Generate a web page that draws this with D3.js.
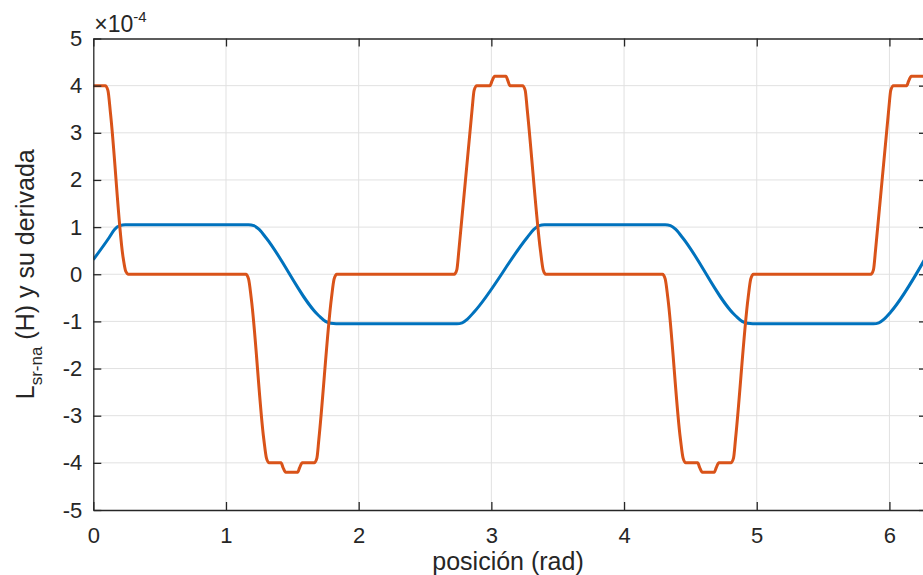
<!DOCTYPE html>
<html>
<head>
<meta charset="utf-8">
<script src="https://cdn.jsdelivr.net/npm/d3@7"></script>
<style>
  body { margin: 0; background: #fff; }
  svg text { font-family: "Liberation Sans", Arial, sans-serif; fill: #262626; }
</style>
</head>
<body>
<div id="chart"></div>
<script>
// Data (values in units of 1e-4)
const xTicks = [0, 1, 2, 3, 4, 5, 6]
const yTicks = [-5, -4, -3, -2, -1, 0, 1, 2, 3, 4, 5]

// L_sr-na
const lX = [0, 0.12, 0.16, 0.20, 0.24,
  1.17, 1.21, 1.25, 1.30, 1.70, 1.75, 1.79, 1.83,
  2.74, 2.78, 2.82, 2.87, 3.27, 3.32, 3.36, 3.40,
  4.31, 4.35, 4.39, 4.44, 4.84, 4.89, 4.93, 4.97,
  5.88, 5.92, 5.96, 6.01, 6.283]
const lY = [0.31, 0.78, 0.95, 1.03, 1.05,
  1.05, 1.03, 0.95, 0.78, -0.88, -1.00, -1.04, -1.05,
  -1.05, -1.03, -0.95, -0.80, 0.78, 0.95, 1.03, 1.05,
  1.05, 1.03, 0.95, 0.78, -0.88, -1.00, -1.04, -1.05,
  -1.05, -1.03, -0.95, -0.80, 0.40]

// derivada
const dX = [0, 0.09, 0.11, 0.13, 0.225, 0.245, 0.265,
  1.15, 1.17, 1.19, 1.285, 1.305, 1.325,
  1.415, 1.43, 1.45, 1.54, 1.555, 1.575,
  1.665, 1.685, 1.70, 1.795, 1.815, 1.835,
  2.72, 2.74, 2.755, 2.855, 2.87, 2.89,
  2.99, 3.005, 3.025, 3.11, 3.125, 3.14,
  3.235, 3.255, 3.27, 3.37, 3.39, 3.41,
  4.29, 4.31, 4.33, 4.425, 4.445, 4.465,
  4.555, 4.57, 4.59, 4.68, 4.695, 4.715,
  4.805, 4.825, 4.84, 4.935, 4.955, 4.975,
  5.86, 5.88, 5.895, 5.995, 6.01, 6.03,
  6.13, 6.145, 6.165, 6.283]
const dY = [4, 4, 3.9, 3.4, 0.35, 0.06, 0,
  0, -0.1, -0.5, -3.5, -3.9, -4,
  -4, -4.1, -4.2, -4.2, -4.1, -4,
  -4, -3.9, -3.5, -0.5, -0.1, 0,
  0, 0.1, 0.5, 3.5, 3.9, 4,
  4, 4.1, 4.2, 4.2, 4.1, 4,
  4, 3.9, 3.5, 0.5, 0.1, 0,
  0, -0.1, -0.5, -3.5, -3.9, -4,
  -4, -4.1, -4.2, -4.2, -4.1, -4,
  -4, -3.9, -3.5, -0.5, -0.1, 0,
  0, 0.1, 0.5, 3.5, 3.9, 4,
  4, 4.1, 4.2, 4.2]

const series = [
  { x: lX, y: lY, color: '#0072BD' },
  { x: dX, y: dY, color: '#D95319' }
]

// Dimensions
const dims = {
  width: 923,
  height: 575,
  left: 93.3,
  right: 927,
  top: 38.5,
  bottom: 510
}

const svg = d3.select('#chart')
  .append('svg')
  .attr('width', dims.width)
  .attr('height', dims.height)

// Scales
const xScale = d3.scaleLinear().domain([0, 2 * Math.PI]).range([dims.left, dims.right])
const yScale = d3.scaleLinear().domain([-5, 5]).range([dims.bottom, dims.top])

// grid
const grid = svg.append('g').attr('stroke', '#e1e1e1').attr('stroke-width', 1)
grid.selectAll('.gx')
  .data(xTicks.slice(1))
  .join('line')
  .attr('x1', d => xScale(d)).attr('x2', d => xScale(d))
  .attr('y1', dims.top).attr('y2', dims.bottom)
grid.selectAll('.gy')
  .data(yTicks.slice(1, -1))
  .join('line')
  .attr('y1', d => yScale(d)).attr('y2', d => yScale(d))
  .attr('x1', dims.left).attr('x2', dims.right)

// lines
svg.append('clipPath').attr('id', 'clip')
  .append('rect')
  .attr('x', dims.left).attr('y', dims.top)
  .attr('width', dims.right - dims.left).attr('height', dims.bottom - dims.top)

const line = d3.line()
  .x(d => xScale(d[0]))
  .y(d => yScale(d[1]))
  .curve(d3.curveMonotoneX)

svg.append('g')
  .attr('clip-path', 'url(#clip)')
  .selectAll('path')
  .data(series)
  .join('path')
  .attr('d', s => line(s.x.map((v, i) => [v, s.y[i]])))
  .attr('fill', 'none')
  .attr('stroke', s => s.color)
  .attr('stroke-width', 3)
  .attr('stroke-linejoin', 'round')

// axes
const fmt = d => String(d)
const styleAxis = g => {
  g.select('.domain').attr('stroke', '#262626').attr('stroke-width', 1.3)
  g.selectAll('.tick line').attr('stroke', '#262626').attr('stroke-width', 1.3)
  g.selectAll('.tick text')
    .style('font-size', '22px')
    .style('font-family', '"Liberation Sans", Arial, sans-serif')
    .attr('fill', '#262626')
}

svg.append('g')
  .attr('transform', `translate(0, ${dims.bottom})`)
  .call(d3.axisBottom(xScale).tickValues(xTicks).tickFormat(fmt)
    .tickSizeInner(-8).tickSizeOuter(0).tickPadding(17))
  .call(styleAxis)

svg.append('g')
  .attr('transform', `translate(0, ${dims.top})`)
  .call(d3.axisTop(xScale).tickValues(xTicks).tickFormat('')
    .tickSizeInner(-8).tickSizeOuter(0))
  .call(styleAxis)

svg.append('g')
  .attr('transform', `translate(${dims.left}, 0)`)
  .call(d3.axisLeft(yScale).tickValues(yTicks).tickFormat(fmt)
    .tickSizeInner(-8).tickSizeOuter(0).tickPadding(11))
  .call(styleAxis)

svg.append('g')
  .attr('transform', `translate(${dims.right}, 0)`)
  .call(d3.axisRight(yScale).tickValues(yTicks).tickFormat('')
    .tickSizeInner(-8).tickSizeOuter(0))
  .call(styleAxis)

// exponent
const expo = svg.append('text')
  .attr('x', dims.left + 1)
  .attr('y', 32)
  .style('font-size', '23px')
expo.append('tspan').text('\u00d710')
expo.append('tspan').attr('dy', -10).style('font-size', '15px').text('-4')

// labels
svg.append('text')
  .attr('x', 508)
  .attr('y', 570)
  .style('text-anchor', 'middle')
  .style('font-size', '25px')
  .text('posición (rad)')

const yLabel = svg.append('text')
  .attr('transform', `translate(33.5, ${(dims.top + dims.bottom) / 2}) rotate(-90)`)
  .style('text-anchor', 'middle')
  .style('font-size', '25px')
yLabel.append('tspan').text('L')
yLabel.append('tspan').attr('dy', 8).style('font-size', '17px').text('sr-na')
yLabel.append('tspan').attr('dy', -8).text(' (H) y su derivada')
</script>
</body>
</html>
